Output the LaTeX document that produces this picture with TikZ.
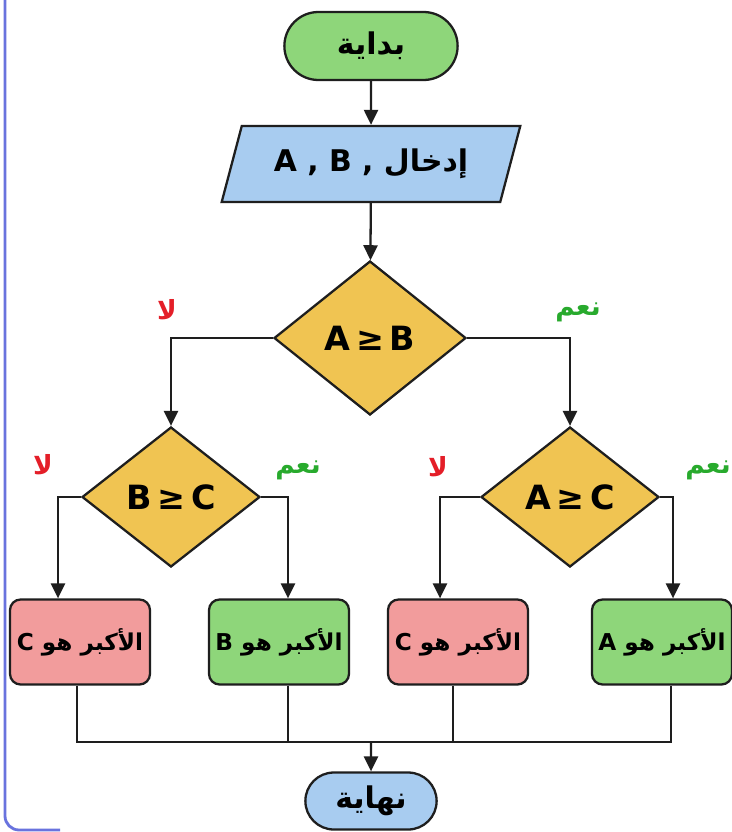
\documentclass[tikz,border=0pt]{standalone}
\usepackage{fontspec}
\setmainfont{DejaVu Sans}
\newfontfamily\arabicfont[Script=Arabic]{DejaVu Sans}
\TeXXeTstate=1
\usetikzlibrary{arrows.meta,shapes.geometric,shapes.misc,calc}
\definecolor{edge}{RGB}{30,30,30}
\definecolor{mint}{RGB}{142,214,122}
\definecolor{sky}{RGB}{168,204,240}
\definecolor{gold}{RGB}{240,196,82}
\definecolor{rose}{RGB}{242,156,156}
\definecolor{yesgreen}{RGB}{40,170,45}
\definecolor{nored}{RGB}{228,30,40}
\definecolor{rim}{RGB}{105,115,222}
\newcommand{\arab}[1]{{\arabicfont\bfseries\beginR #1\endR}}
\tikzset{
  >={Triangle[length=3mm,width=2.8mm]},
  term/.style={rounded rectangle,draw=edge,fill=#1,line width=1.3pt,
    minimum width=37mm,minimum height=13.6mm,font=\fontsize{17}{19}\selectfont},
  term/.default=mint,
  io/.style={trapezium,trapezium left angle=69,trapezium right angle=111,
    trapezium stretches=true,draw=edge,fill=sky,line width=1.3pt,
    minimum width=59.8mm,minimum height=15.2mm,font=\fontsize{17}{19}\selectfont\bfseries},
  test/.style={diamond,draw=edge,fill=gold,line width=1.3pt,inner sep=0pt,
    font=\fontsize{19}{21}\selectfont\bfseries},
  result/.style={rectangle,rounded corners=6pt,draw=edge,fill=#1,line width=1.3pt,
    minimum width=28mm,minimum height=17mm,inner sep=1pt,
    font=\fontsize{13.2}{15}\selectfont\bfseries},
  result/.default=mint,
  flow/.style={->,line width=1.3pt,draw=edge},
  link/.style={line width=1.3pt,draw=edge},
  yes/.style={text=yesgreen,font=\fontsize{15}{17}\selectfont},
  no/.style={text=nored,font=\fontsize{15}{17}\selectfont},
}
\begin{document}
\begin{tikzpicture}[x=0.02cm,y=-0.02cm]
  \fill[white] (0,0) rectangle (731,832);
  \useasboundingbox (0,0) rectangle (731,832);
  \draw[rim,line width=1.6pt,rounded corners=8pt] (5,0) -- (5,830) -- (60,830);

  % start and input
  \node[term=mint] (start) at (371,46) {\arab{بداية}};
  \node[io] (input) at (371,164) {\beginR\arab{إدخال} , \beginL A , B\endL\endR};

  % decisions
  \node[test,minimum width=38.4mm,minimum height=30.8mm] (cmpAB) at (370,338) {A\,≥\,B};
  \node[test,minimum width=35.6mm,minimum height=28mm] (cmpBC) at (171,497) {B\,≥\,C};
  \node[test,minimum width=35.6mm,minimum height=28mm] (cmpAC) at (570,497) {A\,≥\,C};

  % results
  \node[result=rose] (bigC1) at (80,642) {\arab{الأكبر هو C}};
  \node[result=mint] (bigB) at (279,642) {\arab{الأكبر هو B}};
  \node[result=rose] (bigC2) at (458,642) {\arab{الأكبر هو C}};
  \node[result=mint] (bigA) at (662,642) {\arab{الأكبر هو A}};

  \node[term=sky,minimum width=28.6mm,minimum height=11.4mm] (stop) at (371,801) {\arab{نهاية}};

  \draw[flow] (start) -- (input);
  \draw[flow] (input) -- (cmpAB);
  \draw[flow] (cmpAB.west) -| (cmpBC.north);
  \draw[flow] (cmpAB.east) -| (cmpAC.north);
  \draw[flow] (cmpBC.west) -| ([xshift=-0.44cm]bigC1.north);
  \draw[flow] (cmpBC.east) -| ([xshift=0.18cm]bigB.north);
  \draw[flow] (cmpAC.west) -| ([xshift=-0.36cm]bigC2.north);
  \draw[flow] (cmpAC.east) -| ([xshift=0.22cm]bigA.north);

  % labels on the branches
  \node[no] (noAB) at (167,310) {\arab{لا}};
  \node[yes] (yesAB) at (578,312) {\arab{نعم}};
  \node[no] (noBC) at (43,465) {\arab{لا}};
  \node[yes] (yesBC) at (298,470) {\arab{نعم}};
  \node[no] (noAC) at (438,467) {\arab{لا}};
  \node[yes] (yesAC) at (708,470) {\arab{نعم}};

  % merge into the end
  \coordinate (join) at (371,742);
  \draw[link] ([xshift=-0.06cm]bigC1.south) |- (join) -| ([xshift=0.18cm]bigA.south);
  \draw[link] ([xshift=0.18cm]bigB.south) -- ([xshift=0.18cm]bigB.south |- join);
  \draw[link] ([xshift=-0.1cm]bigC2.south) -- ([xshift=-0.1cm]bigC2.south |- join);
  \draw[flow] (join) -- (stop);
\end{tikzpicture}
\end{document}
